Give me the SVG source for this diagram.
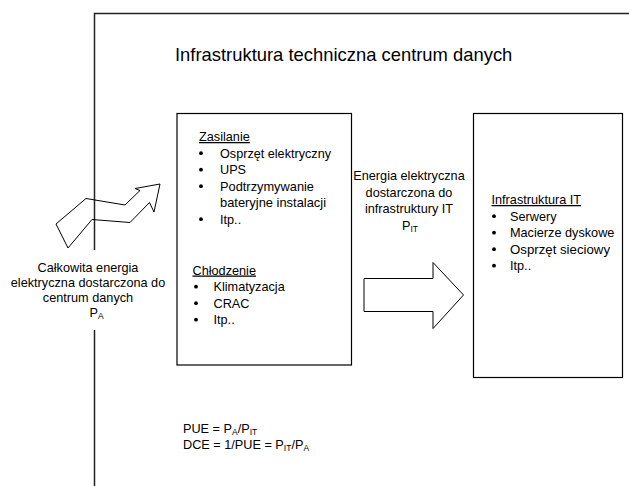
<svg xmlns="http://www.w3.org/2000/svg" width="629" height="486" viewBox="0 0 629 486">
<style>
  text { font-family: "Liberation Sans", Arial, sans-serif; fill: #000; }
  .t { font-size: 12.7px; }
  .c { text-anchor: middle; }
  .title { font-size: 18.4px; }
  .u { text-decoration: underline; }
  .sub { font-size: 8.5px; }
  .bul { fill: #000; }
  .box { fill: #fff; stroke: #000; stroke-width: 1.2; }
  .frame { fill: none; stroke: #222; stroke-width: 1.5; }
  .arrow { fill: none; stroke: #000; stroke-width: 1; stroke-linejoin: miter; }
</style>
<defs>
  <circle id="b" r="1.9"/>
</defs>
<rect width="629" height="486" fill="#fff"/>

<g id="frame">
  <path class="frame" d="M94.5,250 V13.5 H629"/>
  <path class="frame" d="M94.5,330 V486"/>
</g>

<g id="title">
  <text class="title" x="175" y="61">Infrastruktura techniczna centrum danych</text>
</g>

<g id="input-power">
  <text class="t c" x="88" y="271.5">Całkowita energia</text>
  <text class="t c" x="88" y="286.5">elektryczna dostarczona do</text>
  <text class="t c" x="88" y="301.5">centrum danych</text>
  <text class="t" x="89.5" y="317">P<tspan class="sub" dy="2">A</tspan></text>
</g>

<g id="support-infrastructure">
  <rect class="box" x="177" y="113.5" width="174.5" height="251.5"/>
  <text class="t u" x="199" y="141">Zasilanie</text>
  <use href="#b" class="bul" x="201" y="153.2"/>
  <text class="t" x="220" y="157.5" textLength="111" lengthAdjust="spacingAndGlyphs">Osprzęt elektryczny</text>
  <use href="#b" class="bul" x="201" y="169.7"/>
  <text class="t" x="220" y="174">UPS</text>
  <use href="#b" class="bul" x="201" y="186.2"/>
  <text class="t" x="220" y="190.5" textLength="94" lengthAdjust="spacingAndGlyphs">Podtrzymywanie</text>
  <text class="t" x="220" y="207" textLength="106" lengthAdjust="spacingAndGlyphs">bateryjne instalacji</text>
  <use href="#b" class="bul" x="201" y="219.2"/>
  <text class="t" x="220" y="223.5">Itp..</text>
  <text class="t u" x="192.5" y="274.5">Chłodzenie</text>
  <use href="#b" class="bul" x="196" y="286.7"/>
  <text class="t" x="213.5" y="291">Klimatyzacja</text>
  <use href="#b" class="bul" x="196" y="303.2"/>
  <text class="t" x="213.5" y="307.5">CRAC</text>
  <use href="#b" class="bul" x="196" y="319.7"/>
  <text class="t" x="213.5" y="324">Itp..</text>
</g>

<g id="it-power">
  <text class="t c" x="409" y="180">Energia elektryczna</text>
  <text class="t c" x="409" y="196.5">dostarczona do</text>
  <text class="t c" x="409" y="213">infrastruktury IT</text>
  <text class="t" x="402" y="229.5">P<tspan class="sub" dy="2">IT</tspan></text>
</g>

<g id="it-infrastructure">
  <rect class="box" x="473.5" y="113.5" width="149" height="264"/>
  <text class="t u" x="491.5" y="204">Infrastruktura IT</text>
  <use href="#b" class="bul" x="494" y="216.2"/>
  <text class="t" x="510" y="220.5">Serwery</text>
  <use href="#b" class="bul" x="494" y="232.7"/>
  <text class="t" x="510" y="237">Macierze dyskowe</text>
  <use href="#b" class="bul" x="494" y="249.2"/>
  <text class="t" x="510" y="253.5" textLength="100" lengthAdjust="spacingAndGlyphs">Osprzęt sieciowy</text>
  <use href="#b" class="bul" x="494" y="265.7"/>
  <text class="t" x="510" y="270">Itp..</text>
</g>

<g id="connectors">
  <polygon class="arrow" points="56,224 86,198.5 125,205 140,190.5 135,188.5 160,184 154,212 149.5,202.5 130,222.5 92,219.5 68,248"/>
  <polygon class="arrow" points="364,278.5 433,278.5 433,262.5 463.5,295 433,328.5 433,311.5 364,311.5"/>
</g>

<g id="formulas">
  <text class="t" x="183" y="433">PUE = P<tspan class="sub" dy="2">A</tspan><tspan dy="-2">/P</tspan><tspan class="sub" dy="2">IT</tspan></text>
  <text class="t" x="183" y="449">DCE = 1/PUE = P<tspan class="sub" dy="2">IT</tspan><tspan dy="-2">/P</tspan><tspan class="sub" dy="2">A</tspan></text>
</g>
</svg>
